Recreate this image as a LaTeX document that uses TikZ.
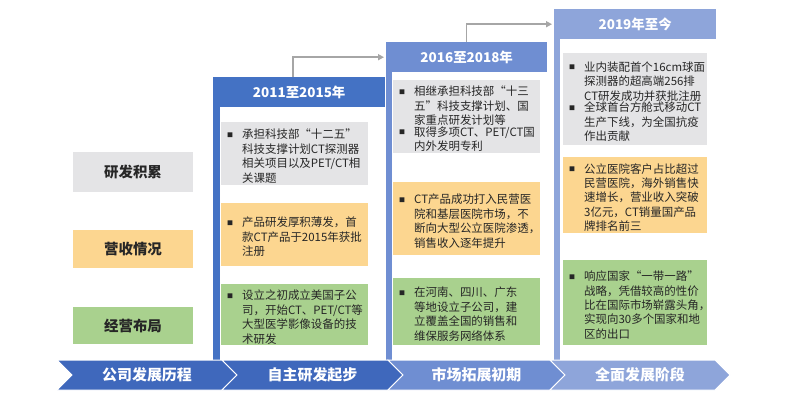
\documentclass[tikz,border=0pt]{standalone}
\usepackage{fontspec}
\setmainfont{Noto Sans CJK SC}
\usetikzlibrary{arrows.meta}
\definecolor{hdrA}{HTML}{4472C4}
\definecolor{hdrB}{HTML}{6F8ED2}
\definecolor{hdrC}{HTML}{8EA5DA}
\definecolor{chevA}{HTML}{3F68BC}
\definecolor{boxgray}{HTML}{E4E4E6}
\definecolor{boxorange}{HTML}{FCD690}
\definecolor{boxgreen}{HTML}{A9D18E}
\definecolor{linkgray}{HTML}{A6A6A6}
\definecolor{txtdark}{HTML}{262626}
\newcommand{\itm}[1]{\par\noindent\makebox[15bp][l]{\raisebox{1.5bp}{\fontsize{6}{6}\selectfont■}}\parbox[t]{\dimexpr\hsize-15bp\relax}{#1}\par}

\begin{document}
\begin{tikzpicture}[x=1bp,y=1bp,
  cell/.style={anchor=north west,inner xsep=6bp,inner ysep=0bp,text width=135bp,align=left,text=txtdark,font=\fontsize{11.5}{14.5}\selectfont},
  tag/.style={minimum width=120bp,inner sep=0bp,text=txtdark,font=\bfseries\fontsize{14.5}{16}\selectfont},
  hdr/.style={anchor=north west,minimum height=30bp,inner sep=0bp,text=white,font=\bfseries\fontsize{13.5}{15}\selectfont},
  chevtxt/.style={text=white,inner sep=0bp,font=\bfseries\fontsize{15}{16}\selectfont},
  link/.style={draw=linkgray,line width=1.5bp,shorten >=2bp,-{Triangle[length=6bp,width=6bp]}}]
\path[use as bounding box] (0,0) rectangle (797,413);
% column frames
\fill[hdrA] (213,306) rectangle (220,53);
\fill[hdrB] (386,341) rectangle (392,53);
\fill[hdrC] (554,374) rectangle (560,53);
\node[hdr,fill=hdrA,minimum width=172bp] (h1) at (213,336) {2011至2015年};
\node[hdr,fill=hdrB,minimum width=161bp] (h2) at (386,371) {2016至2018年};
\node[hdr,fill=hdrC,minimum width=162bp] (h3) at (554,404) {2019年至今};
\draw[link] ([xshift=-6bp]h1.north) |- (h2.west);
\draw[link] (h2.north) |- (h3.west);
% row labels
\node[tag,fill=boxgray,minimum height=40bp] (lrd) at (133,241) {研发积累};
\node[tag,fill=boxorange,minimum height=38bp] (lrev) at (133,164) {营收情况};
\node[tag,fill=boxgreen,minimum height=37bp] (lops) at (133,87.5) {经营布局};
% 2011-2015
\node[cell,fill=boxgray,minimum height=63bp] (rd1) at (221,291) {\itm{承担科技部“十二五”\\科技支撑计划CT探测器\\相关项目以及PET/CT相\\关课题}};
\node[cell,fill=boxorange,minimum height=63bp] (rev1) at (221,210) {\itm{产品研发厚积薄发，首\\款CT产品于2015年获批\\注册}};
\node[cell,fill=boxgreen,minimum height=61bp] (ops1) at (221,129) {\itm{设立之初成立美国子公\\司，开始CT、PET/CT等\\大型医学影像设备的技\\术研发}};
% 2016-2018
\node[cell,fill=boxgray,minimum height=73bp] (rd2) at (393,333) {\itm{相继承担科技部“十三\\五”科技支撑计划、国\\家重点研发计划等}\itm{取得多项CT、PET/CT国\\内外发明专利}};
\node[cell,fill=boxorange,minimum height=73bp] (rev2) at (393,231) {\itm{CT产品成功打入民营医\\院和基层医院市场，不\\断向大型公立医院渗透，\\销售收入逐年提升}};
\node[cell,fill=boxgreen,minimum height=67bp] (ops2) at (393,135) {\itm{在河南、四川、广东\\等地设立子公司，建\\立覆盖全国的销售和\\维保服务网络体系}};
% 2019-
\node[cell,fill=boxgray,text width=132bp,minimum height=92bp] (rd3) at (563,360) {\itm{业内装配首个16cm球面\\探测器的超高端256排\\CT研发成功并获批注册}\itm{全球首台方舱式移动CT\\生产下线，为全国抗疫\\作出贡献}};
\node[cell,fill=boxorange,text width=132bp,minimum height=76bp] (rev3) at (563,256) {\itm{公立医院客户占比超过\\民营医院，海外销售快\\速增长，营业收入突破\\3亿元，CT销量国产品\\牌排名前三}};
\node[cell,fill=boxgreen,text width=132bp,minimum height=85bp] (ops3) at (563,153) {\itm{响应国家“一带一路”\\战略，凭借较高的性价\\比在国际市场崭露头角，\\实现向30多个国家和地\\区的出口}};
% phase arrows
\foreach \xa/\xb/\col/\txt [count=\i] in {57/222/chevA/公司发展历程,222/388/chevA/自主研发起步,388/550/hdrB/市场拓展初期,550/715/hdrC/全面发展阶段}{
  \filldraw[fill=\col,draw=white,line width=1bp] (\xa,53) -- (\xb,53) -- (\xb+15,38) -- (\xb,23) -- (\xa,23) -- (\xa+15,38) -- cycle;
  \node[chevtxt] (ph\i) at ({(\xa+\xb)/2+7.5},38) {\txt};
}
\end{tikzpicture}
\end{document}
